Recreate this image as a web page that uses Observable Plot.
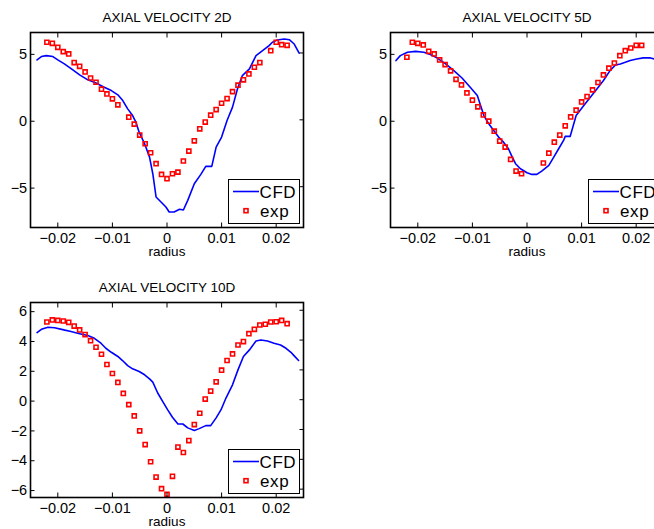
<!DOCTYPE html>
<html>
<head>
<meta charset="utf-8">
<script src="https://cdn.jsdelivr.net/npm/d3@7"></script>
<script src="https://cdn.jsdelivr.net/npm/@observablehq/plot@0.6"></script>
<style>
  html, body { margin: 0; padding: 0; background: #fff; width: 654px; height: 529px; overflow: hidden; }
  .panel { position: absolute; width: 330px; height: 260px; overflow: hidden; }
  .panel > svg { display: block; max-width: none !important; width: 330px !important; height: 260px !important; }
  .legend { position: absolute; box-sizing: border-box; width: 72px; height: 45px; border: 1px solid #000; background: #fff; }
  .legend svg { position: absolute; left: 0; top: 0; overflow: visible; }
</style>
</head>
<body>
<div id="p1" class="panel" style="left:0px;top:0px;"></div>
<div id="p2" class="panel" style="left:360px;top:0px;width:294px;"></div>
<div id="p3" class="panel" style="left:0px;top:270px;height:259px;"></div>
<script>
// ---------- data ----------
const titles = ["AXIAL VELOCITY 2D", "AXIAL VELOCITY 5D", "AXIAL VELOCITY 10D"];
const xLabel = "radius";
const legendLabels = ["CFD", "exp"];

const xTicks = [-0.02, -0.01, 0, 0.01, 0.02];
const xTickLabels = ["\u22120.02", "\u22120.01", "0", "0.01", "0.02"];
const yTicksA = [-5, 0, 5];
const yTickLabelsA = ["\u22125", "0", "5"];
const yTicksB = [-6, -4, -2, 0, 2, 4, 6];
const yTickLabelsB = ["\u22126", "\u22124", "\u22122", "0", "2", "4", "6"];

// 2D
const cfd2D_r = [-0.0238,-0.0230,-0.0221,-0.0209,-0.0200,-0.0188,-0.0175,-0.0160,-0.0145,-0.0130,-0.0115,-0.0102,-0.0090,-0.0081,-0.0072,-0.0063,-0.0057,-0.0051,-0.0041,-0.0032,-0.0026,-0.0020,-0.0011,-0.0002,0.0004,0.0013,0.0023,0.0030,0.0038,0.0050,0.0062,0.0071,0.0082,0.0090,0.0100,0.0110,0.0120,0.0129,0.0138,0.0151,0.0163,0.0175,0.0187,0.0193,0.0202,0.0215,0.0224,0.0233,0.0242];
const cfd2D_v = [4.48,4.73,4.80,4.73,4.48,4.18,3.81,3.36,2.99,2.76,2.44,2.19,1.87,1.44,0.82,0.32,-0.17,-0.92,-1.79,-2.79,-4.03,-5.77,-6.14,-6.52,-6.89,-6.89,-6.69,-6.74,-6.02,-4.78,-4.08,-3.48,-3.48,-2.04,-1.29,-0.05,0.95,2.31,3.31,3.81,4.80,5.17,5.55,5.80,5.97,6.04,5.99,5.67,4.98];
const exp2D_r = [-0.022,-0.021,-0.020,-0.019,-0.018,-0.017,-0.016,-0.015,-0.014,-0.013,-0.012,-0.011,-0.010,-0.009,-0.007,-0.006,-0.005,-0.004,-0.003,-0.002,-0.001,0,0.001,0.002,0.003,0.004,0.005,0.006,0.007,0.008,0.009,0.010,0.011,0.012,0.013,0.014,0.015,0.016,0.017,0.019,0.020,0.021,0.022];
const exp2D_v = [5.80,5.72,5.42,5.10,4.93,4.28,4.00,3.58,3.13,2.81,2.29,1.94,1.57,1.12,0.20,-0.32,-1.14,-1.79,-2.46,-3.28,-4.08,-4.40,-4.03,-3.91,-3.08,-2.34,-1.57,-0.67,-0.17,0.35,0.77,1.24,1.59,2.11,2.59,2.99,3.43,3.93,4.28,5.17,5.80,5.62,5.57];

// 5D
const cfd5D_r = [-0.0240,-0.0232,-0.0219,-0.0204,-0.0189,-0.0177,-0.0165,-0.0149,-0.0134,-0.0119,-0.0104,-0.0091,-0.0085,-0.0079,-0.0070,-0.0061,-0.0052,-0.0043,-0.0034,-0.0027,-0.0021,-0.0012,0.0000,0.0009,0.0018,0.0027,0.0040,0.0049,0.0058,0.0067,0.0070,0.0079,0.0090,0.0104,0.0116,0.0128,0.0140,0.0152,0.0162,0.0171,0.0180,0.0189,0.0201,0.0213,0.0226,0.0235,0.0244];
const cfd5D_v = [4.43,4.80,5.05,5.12,5.05,4.88,4.63,4.18,3.68,3.13,2.44,1.82,1.07,0.32,-0.30,-0.80,-1.29,-1.67,-2.16,-2.79,-3.28,-3.66,-3.96,-4.08,-4.08,-3.83,-3.41,-2.79,-2.16,-1.54,-1.24,-1.24,0.32,1.07,1.69,2.31,2.94,3.68,4.10,4.18,4.30,4.43,4.55,4.63,4.63,4.53,4.38];
const exp5D_r = [-0.022,-0.021,-0.020,-0.019,-0.018,-0.017,-0.016,-0.015,-0.014,-0.013,-0.012,-0.011,-0.010,-0.009,-0.008,-0.007,-0.006,-0.005,-0.004,-0.003,-0.002,-0.001,0.003,0.004,0.005,0.006,0.007,0.008,0.009,0.010,0.011,0.012,0.013,0.014,0.015,0.016,0.017,0.018,0.019,0.020,0.021];
const exp5D_v = [4.68,5.80,5.72,5.60,5.12,4.93,4.48,4.13,3.66,3.03,2.61,2.01,1.47,0.97,0.37,-0.10,-0.85,-1.59,-2.04,-2.96,-3.83,-4.03,-3.23,-2.49,-1.67,-1.14,-0.45,0.22,0.72,1.34,1.74,2.24,2.79,3.36,3.86,4.25,4.80,5.17,5.37,5.57,5.57];

// 10D
const cfd10D_r = [-0.0238,-0.0230,-0.0218,-0.0206,-0.0191,-0.0176,-0.0160,-0.0145,-0.0133,-0.0121,-0.0112,-0.0102,-0.0090,-0.0081,-0.0072,-0.0063,-0.0051,-0.0041,-0.0032,-0.0026,-0.0017,-0.0008,0.0001,0.0010,0.0020,0.0029,0.0038,0.0050,0.0059,0.0071,0.0080,0.0090,0.0099,0.0108,0.0120,0.0130,0.0140,0.0151,0.0163,0.0172,0.0184,0.0196,0.0208,0.0218,0.0227,0.0233,0.0241];
const cfd10D_v = [4.50,4.72,4.86,4.83,4.70,4.57,4.43,4.30,4.12,3.79,3.45,3.18,2.90,2.61,2.29,2.07,1.89,1.67,1.40,1.18,0.45,-0.11,-0.67,-1.18,-1.63,-1.63,-1.89,-2.07,-1.94,-1.74,-1.74,-1.22,-0.67,0.11,1.00,2.00,2.90,3.34,3.94,4.01,3.94,3.79,3.67,3.45,3.18,2.94,2.63];
const exp10D_r = [-0.022,-0.021,-0.020,-0.019,-0.018,-0.017,-0.016,-0.015,-0.014,-0.013,-0.012,-0.011,-0.010,-0.009,-0.008,-0.007,-0.006,-0.005,-0.004,-0.003,-0.002,-0.001,0,0.001,0.002,0.003,0.004,0.005,0.006,0.007,0.008,0.009,0.010,0.011,0.012,0.013,0.014,0.015,0.016,0.017,0.018,0.019,0.020,0.021,0.022];
const exp10D_v = [5.21,5.35,5.32,5.28,5.19,4.94,4.68,4.37,3.96,3.52,3.05,2.36,1.76,1.16,0.42,-0.33,-1.09,-2.09,-3.01,-4.16,-5.19,-5.97,-6.35,-5.14,-3.18,-3.54,-2.74,-1.67,-0.91,0.04,0.58,1.20,1.98,2.63,3.07,3.67,3.90,4.43,4.72,5.01,5.06,5.21,5.23,5.32,5.10];

// ---------- drawing ----------
const FONT = "'Liberation Sans', Arial, Helvetica, sans-serif";
const BLUE = "#0000ff", RED = "#ff0000";

function makePanel(title, cfdR, cfdV, expR, expV, yDomain, yTicks, yTickLabels) {
  const cfd = cfdR.map((r, i) => ({r, v: cfdV[i]}));
  const exp = expR.map((r, i) => ({r, v: expV[i]}));
  const xFmt = new Map(xTicks.map((t, i) => [t, xTickLabels[i]]));
  const yFmt = new Map(yTicks.map((t, i) => [t, yTickLabels[i]]));
  return Plot.plot({
    width: 330, height: 260,
    marginLeft: 30, marginRight: 27, marginTop: 32, marginBottom: 33,
    style: {fontFamily: FONT, fontSize: "14px", background: "white", color: "black"},
    x: {domain: [-0.025, 0.025]},
    y: {domain: yDomain},
    marks: [
      Plot.line(cfd, {x: "r", y: "v", stroke: BLUE, strokeWidth: 1.6, clip: true}),
      Plot.dot(exp, {x: "r", y: "v", symbol: "square", r: 2.3, stroke: RED, strokeWidth: 1.6, fill: "none", clip: true}),
      Plot.frame({stroke: "black", strokeWidth: 1.6}),
      Plot.axisX(xTicks, {anchor: "bottom", tickSize: -4.5, tickPadding: 9.6, tickFormat: d => xFmt.get(d), label: null, fontSize: 14.5}),
      Plot.axisX(xTicks, {anchor: "top", tickSize: -4.5, tickFormat: () => "", label: null}),
      Plot.axisY(yTicks, {anchor: "left", tickSize: -4.5, tickPadding: 7.8, dy: 1.4, tickFormat: d => yFmt.get(d), label: null, fontSize: 14.5}),
      Plot.axisY(yTicks, {anchor: "right", tickSize: -4.5, tickFormat: () => "", label: null}),
      Plot.text([title], {frameAnchor: "top", lineAnchor: "bottom", dy: -10.3, fontSize: 13.5, fill: "black"}),
      Plot.text([xLabel], {frameAnchor: "bottom", lineAnchor: "bottom", dy: 28.5, fontSize: 13.5, fill: "black"})
    ]
  });
}

function makeLegend() {
  const div = document.createElement("div");
  div.className = "legend";
  div.style.left = "228px";
  div.style.top = "179px";
  const ns = "http://www.w3.org/2000/svg";
  const svg = document.createElementNS(ns, "svg");
  svg.setAttribute("width", "70");
  svg.setAttribute("height", "43");
  svg.style.fontFamily = FONT;
  const line = document.createElementNS(ns, "line");
  line.setAttribute("x1", "4"); line.setAttribute("x2", "30");
  line.setAttribute("y1", "11.5"); line.setAttribute("y2", "11.5");
  line.setAttribute("stroke", BLUE); line.setAttribute("stroke-width", "1.6");
  svg.appendChild(line);
  const t1 = document.createElementNS(ns, "text");
  t1.setAttribute("x", "30.5"); t1.setAttribute("y", "17.8");
  t1.setAttribute("font-size", "17"); t1.setAttribute("letter-spacing", "0.6");
  t1.textContent = legendLabels[0];
  svg.appendChild(t1);
  const sq = document.createElementNS(ns, "rect");
  sq.setAttribute("x", "15"); sq.setAttribute("y", "28.7");
  sq.setAttribute("width", "4"); sq.setAttribute("height", "4");
  sq.setAttribute("fill", "none"); sq.setAttribute("stroke", RED); sq.setAttribute("stroke-width", "1.6");
  svg.appendChild(sq);
  const t2 = document.createElementNS(ns, "text");
  t2.setAttribute("x", "31"); t2.setAttribute("y", "37");
  t2.setAttribute("font-size", "17"); t2.setAttribute("letter-spacing", "0.6");
  t2.textContent = legendLabels[1];
  svg.appendChild(t2);
  div.appendChild(svg);
  return div;
}

const panels = [
  ["p1", makePanel(titles[0], cfd2D_r, cfd2D_v, exp2D_r, exp2D_v, [-8.05, 6.53], yTicksA, yTickLabelsA)],
  ["p2", makePanel(titles[1], cfd5D_r, cfd5D_v, exp5D_r, exp5D_v, [-8.05, 6.53], yTicksA, yTickLabelsA)],
  ["p3", makePanel(titles[2], cfd10D_r, cfd10D_v, exp10D_r, exp10D_v, [-6.56, 6.52], yTicksB, yTickLabelsB)]
];
for (const [id, chart] of panels) {
  const host = document.getElementById(id);
  host.appendChild(chart);
  host.appendChild(makeLegend());
}
</script>
</body>
</html>
